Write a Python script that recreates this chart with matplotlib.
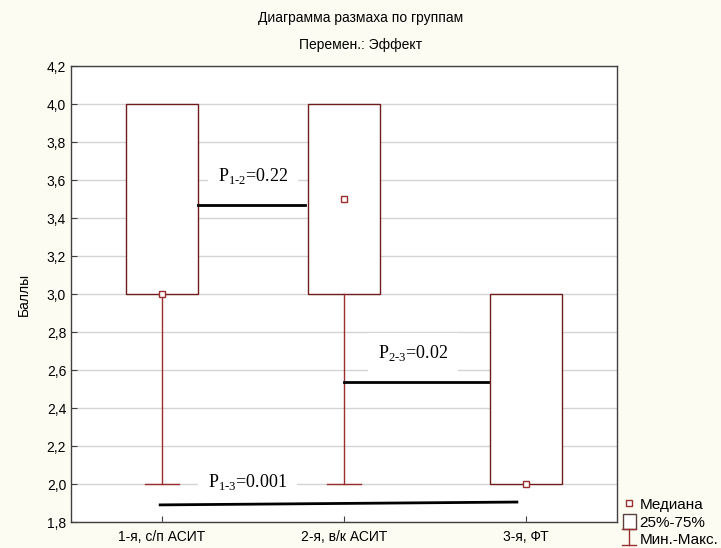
import matplotlib
matplotlib.use("Agg")
import matplotlib.pyplot as plt
from matplotlib.lines import Line2D
from matplotlib.patches import Patch
from matplotlib.legend_handler import HandlerBase
from matplotlib.ticker import FuncFormatter, MultipleLocator

plt.rcParams['font.family'] = ['Liberation Sans', 'DejaVu Sans']
plt.rcParams['mathtext.fontset'] = 'custom'
plt.rcParams['mathtext.rm'] = 'Liberation Serif'

# box plot data (per group)
groups = ['1-я, с/п АСИТ', '2-я, в/к АСИТ', '3-я, ФТ']
medians = [3.0, 3.5, 2.0]
q1 = [3.0, 3.0, 2.0]
q3 = [4.0, 4.0, 3.0]
mins = [2.0, 2.0, 2.0]
maxs = [4.0, 4.0, 3.0]

# comparison lines: (x start, x end, y start, y end) and labels
cmp_lines = [(1.2, 1.785, 3.47, 3.47),
             (2.0, 2.79, 2.535, 2.535),
             (0.99, 2.95, 1.89, 1.905)]
cmp_labels = [r'P$_{\text{1-2}}$=0.22', r'P$_{\text{2-3}}$=0.02', r'P$_{\text{1-3}}$=0.001']
cmp_label_xy = [(1.5, 3.62), (2.38, 2.69), (1.47, 2.01)]

BOX = '#6e1c1c'
WHISK = '#9a2e2e'
BG = '#fdfcf3'

fig = plt.figure(figsize=(7.21, 5.48), dpi=100, facecolor=BG)
ax = fig.add_axes([71 / 721, 1 - 522 / 548, 546 / 721, 456 / 548])
ax.set_facecolor('white')

pos = [1, 2, 3]
stats = []
for i in range(len(groups)):
    stats.append({'med': medians[i], 'q1': q1[i], 'q3': q3[i],
                  'whislo': mins[i], 'whishi': maxs[i], 'label': groups[i]})

bp = ax.bxp(stats, positions=pos, widths=0.4, capwidths=0.19, showfliers=False,
            patch_artist=True,
            boxprops=dict(facecolor='white', edgecolor=BOX, linewidth=1.0),
            whiskerprops=dict(color=WHISK, linewidth=1.0),
            capprops=dict(color=WHISK, linewidth=1.0),
            medianprops=dict(linestyle='none'), zorder=3)
# caps of zero-length whiskers sit on the box edge: hide them
for i in range(len(groups)):
    if mins[i] == q1[i]:
        bp['caps'][2 * i].set_visible(False)
    if maxs[i] == q3[i]:
        bp['caps'][2 * i + 1].set_visible(False)
ax.plot(pos, medians, 's', ms=5, mfc='white', mec=WHISK, mew=1.0, zorder=4)

for (x0, x1, y0, y1), lab, (tx, ty) in zip(cmp_lines, cmp_labels, cmp_label_xy):
    ax.plot([x0, x1], [y0, y1], color='black', lw=2, zorder=5)
    ax.text(tx, ty, lab, ha='center', va='center', fontsize=13,
            family='Liberation Serif', color='black', zorder=2,
            bbox=dict(boxstyle='square,pad=0.55', fc='white', ec='none'))

ax.set_xlim(0.5, 3.5)
ax.set_ylim(1.8, 4.2)
ax.set_xticks(pos)
ax.set_xticklabels(groups, fontsize=10)
ax.yaxis.set_major_locator(MultipleLocator(0.2))
ax.yaxis.set_major_formatter(FuncFormatter(lambda v, p: f'{v:.1f}'.replace('.', ',')))
ax.tick_params(axis='y', labelsize=10, direction='in', length=4, colors='#404040', labelcolor='black')
ax.tick_params(axis='x', direction='in', length=4, colors='#404040', labelcolor='black', pad=6)
ax.yaxis.grid(True, color='#d4d4d4', lw=1)
ax.set_axisbelow(True)
for s in ax.spines.values():
    s.set_color('#404040')
    s.set_linewidth(1)
ax.set_ylabel('Баллы', fontsize=10, labelpad=11)

fig.text(0.5, 1 - 18 / 548, 'Диаграмма размаха по группам', ha='center', va='center', fontsize=10)
fig.text(0.5, 1 - 45 / 548, 'Перемен.: Эффект', ha='center', va='center', fontsize=10)


class MinMaxHandle:
    pass


class HandlerMinMax(HandlerBase):
    def create_artists(self, legend, orig_handle, xdescent, ydescent, width, height, fontsize, trans):
        cx = width / 2 - xdescent
        lo, hi = -ydescent + 1, height - ydescent + 2
        lines = [Line2D([cx, cx], [lo, hi]),
                 Line2D([cx - 5, cx + 5], [lo, lo]),
                 Line2D([cx - 5, cx + 5], [hi, hi])]
        for ln in lines:
            ln.set_color(WHISK)
            ln.set_linewidth(1)
            ln.set_transform(trans)
        return lines


h_med = Line2D([], [], marker='s', ls='none', ms=5, mfc='white', mec=WHISK)
h_box = Patch(facecolor='white', edgecolor='#5a4040')
h_mm = MinMaxHandle()
leg = fig.legend([h_med, h_box, h_mm], ['Медиана', '25%-75%', 'Мин.-Макс.'],
                 handler_map={MinMaxHandle: HandlerMinMax()},
                 loc='lower left', bbox_to_anchor=(613 / 721, -9 / 548),
                 frameon=False, fontsize=11, handlelength=0.85, handleheight=1.1,
                 handletextpad=0.25, labelspacing=0.12, borderpad=0.15)

fig.savefig('out.png', dpi=100, facecolor=BG)
